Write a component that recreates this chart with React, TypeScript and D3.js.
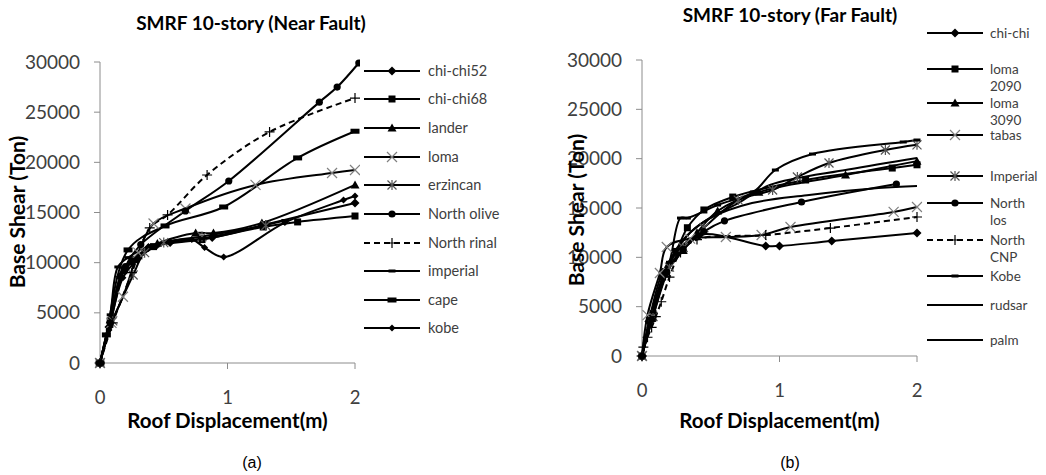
import React from "react";
import * as d3 from "d3";

type Pt = [number, number];

// ---------- data: Near Fault ----------
const nearChiChi52: Pt[] = [[0,0],[0.07,3600],[0.16,8600],[0.25,10100],[0.38,11500],[0.55,12000],[0.88,12500],[1.3,13800],[2,15950]];
const nearChiChi68: Pt[] = [[0,0],[0.08,4200],[0.19,9300],[0.28,10300],[0.42,11600],[0.8,12300],[1.28,13560],[1.55,14060],[2,14650]];
const nearLander: Pt[] = [[0,0],[0.08,4300],[0.18,9200],[0.3,10700],[0.45,11900],[0.75,12950],[0.89,12950],[1.27,13950],[2,17750]];
const nearLoma: Pt[] = [[0,0],[0.09,4000],[0.18,6600],[0.3,11000],[0.42,13900],[0.67,15400],[1.22,17750],[1.82,18940],[2,19240]];
const nearErzincan: Pt[] = [[0,0],[0.1,4200],[0.26,8770],[0.35,11000],[0.5,12000],[0.8,12600],[1.3,13700]];
const nearNorthOlive: Pt[] = [[0,0],[0.08,4000],[0.2,9600],[0.32,11800],[0.67,15150],[1.01,18140],[1.72,26000],[1.86,27500],[2.03,29900]];
const nearNorthRinal: Pt[] = [[0,0],[0.1,4000],[0.25,9000],[0.39,13460],[0.53,14760],[0.84,18740],[1.33,23030],[2,26400]];
const nearImperial: Pt[] = [[0,0],[0.08,4800],[0.14,9570],[0.22,10500],[0.4,11700],[0.8,12400],[1.45,14200]];
const nearCape: Pt[] = [[0,0],[0.05,2800],[0.22,11270],[0.51,13660],[0.97,15550],[1.55,20440],[2,23100]];
const nearKobe: Pt[] = [[0,0],[0.07,3300],[0.18,8500],[0.3,10400],[0.45,11700],[0.72,12300],[0.82,11500],[0.97,10570],[1.45,14000],[1.91,16250],[2,16650]];

// ---------- data: Far Fault ----------
const farChiChi: Pt[] = [[0,0],[0.05,3500],[0.15,8500],[0.25,10500],[0.42,12300],[0.9,11150],[1.0,11150],[1.38,11650],[2,12460]];
const farLoma2090: Pt[] = [[0,0],[0.06,3800],[0.15,8000],[0.25,10600],[0.33,13000],[0.45,14800],[0.66,16110],[1.19,17840],[1.82,19050],[2,19380]];
const farLoma3090: Pt[] = [[0,0],[0.07,3800],[0.17,8300],[0.3,10700],[0.4,12500],[0.55,14700],[0.85,16600],[1.48,18340],[2,19750]];
const farTabas: Pt[] = [[0,0],[0.04,4150],[0.13,8410],[0.18,11050],[0.35,11900],[0.61,12060],[0.87,12260],[1.08,13070],[1.83,14600],[2,15100]];
const farImperial: Pt[] = [[0,0],[0.08,4000],[0.2,9000],[0.3,11000],[0.45,13000],[0.7,15800],[0.95,16820],[1.13,18140],[1.36,19560],[1.77,20880],[2,21400]];
const farNorthLos: Pt[] = [[0,0],[0.07,3700],[0.18,8500],[0.3,10800],[0.45,12600],[0.6,13700],[1.16,15610],[1.85,17430]];
const farNorthCNP: Pt[] = [[0,0],[0.01,900],[0.04,1900],[0.07,2900],[0.1,4000],[0.14,5500],[0.2,8000],[0.28,10500],[0.4,11800],[0.9,12260],[1.37,12970],[2,14090]];
const farKobe: Pt[] = [[0,0],[0.08,4500],[0.2,9500],[0.28,13980],[0.33,13980],[0.55,15300],[0.81,16620],[0.97,18850],[1.24,20470],[1.9,21690],[2,21890]];
const farRudsar: Pt[] = [[0,0],[0.07,3800],[0.18,9000],[0.3,11800],[0.45,13600],[0.7,15500],[0.93,17330],[1.5,18900],[2,20070]];
const farPalm: Pt[] = [[0,0],[0.08,4000],[0.2,9300],[0.35,12500],[0.5,14000],[0.8,15500],[1.2,16300],[1.72,17030],[2,17230]];

const yTicks = [0, 5000, 10000, 15000, 20000, 25000, 30000];
const xTicks = [0, 1, 2];

const nearNames = ["chi-chi52","chi-chi68","lander","loma","erzincan","North olive","North rinal","imperial","cape","kobe"];
const nearData = [nearChiChi52, nearChiChi68, nearLander, nearLoma, nearErzincan, nearNorthOlive, nearNorthRinal, nearImperial, nearCape, nearKobe];
const nearMarkers = ["diamond","square","triangle","x","star","circle","plus","dashThin","dashThick","diamondSmall"];

const farNames = [["chi-chi"],["loma","2090"],["loma","3090"],["tabas"],["Imperial"],["North","los"],["North","CNP"],["Kobe"],["rudsar"],["palm"]];
const farData = [farChiChi, farLoma2090, farLoma3090, farTabas, farImperial, farNorthLos, farNorthCNP, farKobe, farRudsar, farPalm];
const farMarkers = ["diamond","square","triangle","x","star","circle","plus","dashThin","none","none"];

const FONT = "Lato, 'Open Sans', sans-serif";

function Marker({ type, x, y }: { type: string; x: number; y: number }) {
  switch (type) {
    case "diamond":
      return <path d={`M${x},${y-4.5}L${x+4.5},${y}L${x},${y+4.5}L${x-4.5},${y}Z`} fill="#000" />;
    case "diamondSmall":
      return <path d={`M${x},${y-3.5}L${x+3.5},${y}L${x},${y+3.5}L${x-3.5},${y}Z`} fill="#000" />;
    case "square":
      return <rect x={x-3.5} y={y-3.5} width={7} height={7} fill="#000" />;
    case "triangle":
      return <path d={`M${x},${y-4.5}L${x+4.5},${y+3.5}L${x-4.5},${y+3.5}Z`} fill="#000" />;
    case "circle":
      return <circle cx={x} cy={y} r={3.6} fill="#000" />;
    case "x":
      return <path d={`M${x-5},${y-5}L${x+5},${y+5}M${x-5},${y+5}L${x+5},${y-5}`} stroke="#808080" strokeWidth={1.2} />;
    case "star":
      return <path d={`M${x-4.5},${y-4.5}L${x+4.5},${y+4.5}M${x-4.5},${y+4.5}L${x+4.5},${y-4.5}M${x},${y-5}L${x},${y+5}`} stroke="#555" strokeWidth={1.2} />;
    case "plus":
      return <path d={`M${x-5},${y}L${x+5},${y}M${x},${y-5}L${x},${y+5}`} stroke="#000" strokeWidth={1.2} />;
    case "dashThin":
      return <rect x={x-3.5} y={y-1.5} width={7} height={3} fill="#000" />;
    case "dashThick":
      return <rect x={x-4.5} y={y-2.5} width={9} height={5} fill="#000" />;
    default:
      return null;
  }
}

interface PanelProps {
  id: string;
  x0: number; x1: number; y0: number; y1: number;
  data: Pt[][]; markers: string[];
  title: string; titleX: number; titleY: number;
  yTitleX: number; yTitleY: number; labelX: number; xLabelY: number; xTitleY: number;
  caption: string; captionX: number;
}

function Panel(p: PanelProps) {
  const xs = d3.scaleLinear().domain([0, 2]).range([p.x0, p.x1]);
  const ys = d3.scaleLinear().domain([0, 30000]).range([p.y0, p.y1]);
  const line = d3.line<Pt>().x(d => xs(d[0])).y(d => ys(d[1])).curve(d3.curveCatmullRom.alpha(0.5));
  const clipId = `clip-${p.id}`;
  return (
    <g>
      <defs>
        <clipPath id={clipId}>
          <rect x={p.x0 - 10} y={p.y1 - 5} width={xs(2.04) - p.x0 + 10} height={p.y0 - p.y1 + 15} />
        </clipPath>
      </defs>
      {/* axes */}
      <line x1={p.x0} x2={p.x0} y1={p.y0} y2={p.y1} stroke="#8c8c8c" strokeWidth={1} />
      <line x1={p.x0} x2={p.x1} y1={p.y0} y2={p.y0} stroke="#8c8c8c" strokeWidth={1} />
      {yTicks.map(t => (
        <g key={`y${t}`}>
          <line x1={p.x0 - 6} x2={p.x0} y1={ys(t)} y2={ys(t)} stroke="#8c8c8c" />
          <text x={p.labelX} y={ys(t)} dy="0.35em" textAnchor="end" fontFamily={FONT} fontSize={19} fill="#404040">{t}</text>
        </g>
      ))}
      {xTicks.map(t => (
        <g key={`x${t}`}>
          <line x1={xs(t)} x2={xs(t)} y1={p.y0} y2={p.y0 + 6} stroke="#8c8c8c" />
          <text x={xs(t)} y={p.xLabelY} dy="0.35em" textAnchor="middle" fontFamily={FONT} fontSize={18.5} fill="#404040">{t}</text>
        </g>
      ))}
      {/* series */}
      <g clipPath={`url(#${clipId})`}>
        {p.data.map((d, i) => (
          <path key={`l${i}`} d={line(d) || ""} fill="none" stroke="#000" strokeWidth={2}
            strokeDasharray={p.markers[i] === "plus" ? "6,4" : undefined} />
        ))}
        {p.data.map((d, i) => d.map((pt, j) => (
          <Marker key={`m${i}-${j}`} type={p.markers[i]} x={xs(pt[0])} y={ys(pt[1])} />
        )))}
      </g>
      {/* titles */}
      <text x={p.titleX} y={p.titleY} dy="0.35em" textAnchor="middle" fontFamily={FONT} fontWeight="bold" fontSize={19}>{p.title}</text>
      <text x={(p.x0 + p.x1) / 2} y={p.xTitleY} dy="0.35em" textAnchor="middle" fontFamily={FONT} fontWeight="bold" fontSize={20.5}>Roof Displacement(m)</text>
      <text transform={`translate(${p.yTitleX},${p.yTitleY}) rotate(-90)`} dy="0.35em" textAnchor="middle" fontFamily={FONT} fontWeight="bold" fontSize={21}>Base Shear (Ton)</text>
      <text x={p.captionX} y={462} dy="0.35em" textAnchor="middle" fontFamily="'Liberation Sans', Arial, sans-serif" fontSize={16}>{p.caption}</text>
    </g>
  );
}

const nearLegendY = [71, 99, 128, 157, 185, 214, 243, 271, 300, 328];
const farLegendY = [33, 69, 103, 135, 176, 203, 240, 276, 305, 340];

export default function App() {
  return (
    <svg width={1046} height={475} style={{ position: "absolute", left: 0, top: 0, background: "#fff" }}>
      <rect width={1046} height={475} fill="#fff" />
      <Panel id="near" x0={100} x1={355} y0={363} y1={62} data={nearData} markers={nearMarkers}
        title="SMRF 10-story (Near Fault)" titleX={251} titleY={23} yTitleX={18} yTitleY={212} labelX={80}
        xLabelY={398} xTitleY={421} caption="(a)" captionX={252} />
      <Panel id="far" x0={642} x1={917} y0={356} y1={60} data={farData} markers={farMarkers}
        title="SMRF 10-story (Far Fault)" titleX={790} titleY={15} yTitleX={577} yTitleY={210} labelX={622}
        xLabelY={391} xTitleY={421} caption="(b)" captionX={790} />
      {/* near legend */}
      {nearNames.map((n, i) => (
        <g key={`nl${i}`}>
          <line x1={364} x2={420} y1={nearLegendY[i]} y2={nearLegendY[i]} stroke="#000" strokeWidth={2}
            strokeDasharray={nearMarkers[i] === "plus" ? "6,4" : undefined} />
          <Marker type={nearMarkers[i]} x={392} y={nearLegendY[i]} />
          <text x={428} y={nearLegendY[i]} dy="0.35em" fontFamily={FONT} fontSize={14.5} fill="#404040">{n}</text>
        </g>
      ))}
      {/* far legend */}
      {farNames.map((n, i) => (
        <g key={`fl${i}`}>
          <line x1={927} x2={983} y1={farLegendY[i]} y2={farLegendY[i]} stroke="#000" strokeWidth={2}
            strokeDasharray={farMarkers[i] === "plus" ? "6,4" : undefined} />
          <Marker type={farMarkers[i]} x={955} y={farLegendY[i]} />
          {n.map((s, k) => (
            <text key={k} x={990} y={farLegendY[i] + k * 17} dy="0.35em" fontFamily={FONT} fontSize={13.5} fill="#404040">{s}</text>
          ))}
        </g>
      ))}
    </svg>
  );
}
